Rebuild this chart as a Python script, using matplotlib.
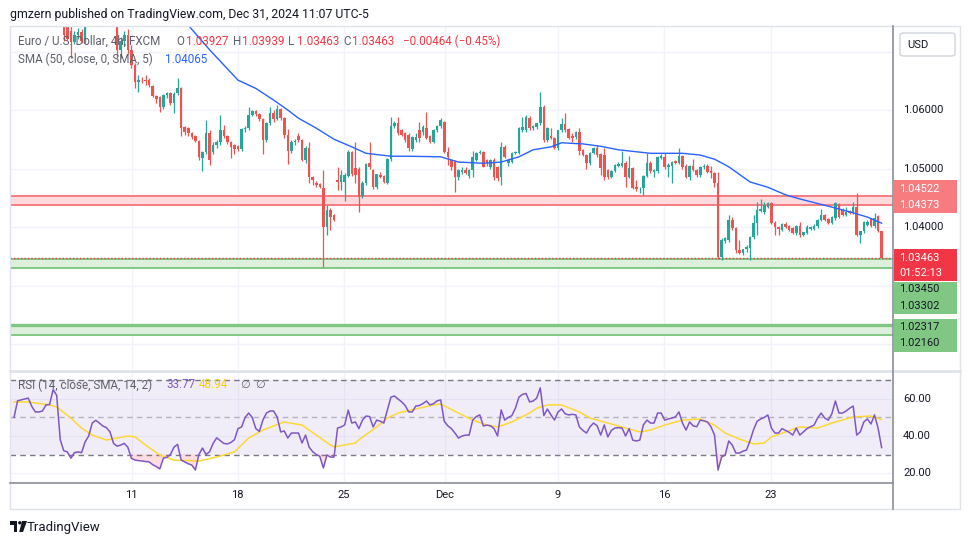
import numpy as np
import matplotlib.pyplot as plt
from matplotlib.patches import Rectangle, FancyBboxPatch, Polygon, Ellipse
from matplotlib.lines import Line2D

plt.rcParams['font.family'] = ['Roboto', 'DejaVu Sans']

# EURUSD 4h (FXCM); bar 0 = leftmost bar
opens = np.array([
    1.0790, 1.0800, 1.0812, 1.0795, 1.0820, 1.0835, 1.0828, 1.0840, 1.0832, 1.0850,
    1.0862, 1.0870, 1.0858, 1.0800, 1.0778, 1.0745, 1.0735, 1.0716, 1.0728, 1.0733,
    1.0718, 1.0758, 1.0772, 1.0785, 1.0790, 1.0781, 1.0776, 1.0786, 1.0772, 1.0762,
    1.0703, 1.0718, 1.0728, 1.0703, 1.0677, 1.0648, 1.0652, 1.0652, 1.0652, 1.0641,
    1.0624, 1.0622, 1.0605, 1.0625, 1.0629, 1.0612, 1.0629, 1.0638, 1.0571, 1.0569,
    1.0560, 1.0555, 1.0547, 1.0518, 1.0528, 1.0561, 1.0528, 1.0540, 1.0545, 1.0566,
    1.0556, 1.0545, 1.0540, 1.0538, 1.0534, 1.0567, 1.0569, 1.0592, 1.0598, 1.0593,
    1.0584, 1.0549, 1.0578, 1.0595, 1.0585, 1.0601, 1.0586, 1.0557, 1.0530, 1.0545,
    1.0556, 1.0548, 1.0515, 1.0535, 1.0485, 1.0475, 1.0473, 1.0467, 1.0400, 1.0429,
    1.0420, 1.0480, 1.0477, 1.0477, 1.0488, 1.0528, 1.0501, 1.0500, 1.0453, 1.0475,
    1.0509, 1.0497, 1.0468, 1.0489, 1.0487, 1.0476, 1.0516, 1.0573, 1.0578, 1.0566,
    1.0561, 1.0557, 1.0533, 1.0549, 1.0566, 1.0562, 1.0569, 1.0555, 1.0545, 1.0566,
    1.0572, 1.0580, 1.0528, 1.0514, 1.0511, 1.0485, 1.0494, 1.0497, 1.0487, 1.0497,
    1.0515, 1.0526, 1.0528, 1.0514, 1.0503, 1.0514, 1.0502, 1.0485, 1.0536, 1.0509,
    1.0511, 1.0526, 1.0527, 1.0566, 1.0566, 1.0586, 1.0569, 1.0571, 1.0578, 1.0605,
    1.0549, 1.0555, 1.0552, 1.0535, 1.0566, 1.0576, 1.0567, 1.0555, 1.0554, 1.0562,
    1.0532, 1.0523, 1.0509, 1.0526, 1.0535, 1.0524, 1.0523, 1.0497, 1.0485, 1.0496,
    1.0505, 1.0504, 1.0509, 1.0485, 1.0501, 1.0468, 1.0466, 1.0467, 1.0488, 1.0510,
    1.0494, 1.0495, 1.0518, 1.0520, 1.0502, 1.0505, 1.0512, 1.0510, 1.0521, 1.0504,
    1.0486, 1.0504, 1.0497, 1.0489, 1.0503, 1.0505, 1.0496, 1.0493, 1.0475, 1.0349,
    1.0376, 1.0378, 1.0412, 1.0398, 1.0361, 1.0356, 1.0362, 1.0364, 1.0383, 1.0407,
    1.0428, 1.0425, 1.0434, 1.0441, 1.0407, 1.0400, 1.0395, 1.0405, 1.0402, 1.0398,
    1.0390, 1.0402, 1.0386, 1.0390, 1.0397, 1.0397, 1.0402, 1.0412, 1.0421, 1.0414,
    1.0407, 1.0415, 1.0439, 1.0429, 1.0421, 1.0427, 1.0424, 1.0434, 1.0386, 1.0393,
    1.0403, 1.0414, 1.0402, 1.0418, 1.03927])
highs = np.array([
    1.0806, 1.0818, 1.0816, 1.0826, 1.0841, 1.0840, 1.0846, 1.0845, 1.0856, 1.0868,
    1.0876, 1.0874, 1.0862, 1.0806, 1.0782, 1.0760, 1.0745, 1.0735, 1.0740, 1.0738,
    1.0765, 1.0778, 1.0790, 1.0796, 1.0794, 1.0786, 1.0792, 1.0790, 1.0777, 1.0768,
    1.0725, 1.0735, 1.0738, 1.0711, 1.0680, 1.0660, 1.0656, 1.0660, 1.0654, 1.0643,
    1.0626, 1.0624, 1.0627, 1.0631, 1.0631, 1.0630, 1.0655, 1.0640, 1.0573, 1.0571,
    1.0562, 1.0557, 1.0549, 1.0530, 1.0583, 1.0565, 1.0545, 1.0548, 1.0591, 1.0575,
    1.0558, 1.0547, 1.0542, 1.0541, 1.0570, 1.0572, 1.0605, 1.0600, 1.0600, 1.0595,
    1.0586, 1.0580, 1.0605, 1.0600, 1.0609, 1.0603, 1.0588, 1.0568, 1.0548, 1.0550,
    1.0560, 1.0550, 1.0538, 1.0545, 1.0487, 1.0478, 1.0476, 1.0497, 1.0438, 1.0432,
    1.0422, 1.0502, 1.0497, 1.0492, 1.0531, 1.0530, 1.0545, 1.0503, 1.0478, 1.0510,
    1.0545, 1.0500, 1.0490, 1.0494, 1.0489, 1.0518, 1.0588, 1.0582, 1.0588, 1.0568,
    1.0563, 1.0560, 1.0555, 1.0561, 1.0580, 1.0575, 1.0597, 1.0557, 1.0568, 1.0575,
    1.0587, 1.0582, 1.0537, 1.0517, 1.0514, 1.0500, 1.0502, 1.0503, 1.0499, 1.0530,
    1.0528, 1.0532, 1.0530, 1.0516, 1.0516, 1.0518, 1.0505, 1.0545, 1.0540, 1.0516,
    1.0528, 1.0530, 1.0571, 1.0588, 1.0592, 1.0590, 1.0575, 1.0578, 1.0631, 1.0608,
    1.0571, 1.0569, 1.0554, 1.0566, 1.0586, 1.0595, 1.0569, 1.0561, 1.0564, 1.0569,
    1.0534, 1.0525, 1.0528, 1.0536, 1.0540, 1.0527, 1.0535, 1.0500, 1.0498, 1.0508,
    1.0511, 1.0530, 1.0512, 1.0521, 1.0503, 1.0480, 1.0469, 1.0489, 1.0526, 1.0512,
    1.0500, 1.0522, 1.0524, 1.0526, 1.0509, 1.0513, 1.0515, 1.0535, 1.0523, 1.0508,
    1.0506, 1.0516, 1.0499, 1.0504, 1.0508, 1.0508, 1.0505, 1.0494, 1.0494, 1.0381,
    1.0383, 1.0420, 1.0417, 1.0400, 1.0378, 1.0363, 1.0370, 1.0385, 1.0420, 1.0443,
    1.0448, 1.0443, 1.0442, 1.0443, 1.0410, 1.0402, 1.0407, 1.0409, 1.0404, 1.0400,
    1.0403, 1.0408, 1.0392, 1.0403, 1.0402, 1.0405, 1.0414, 1.0430, 1.0423, 1.0416,
    1.0418, 1.0443, 1.0441, 1.0432, 1.0434, 1.0429, 1.0443, 1.0458, 1.0394, 1.0410,
    1.0412, 1.0416, 1.0424, 1.0420, 1.03939])
lows = np.array([
    1.0784, 1.0795, 1.0789, 1.0790, 1.0815, 1.0822, 1.0824, 1.0826, 1.0828, 1.0845,
    1.0856, 1.0852, 1.0794, 1.0772, 1.0718, 1.0720, 1.0689, 1.0712, 1.0722, 1.0715,
    1.0715, 1.0752, 1.0766, 1.0779, 1.0775, 1.0770, 1.0771, 1.0766, 1.0755, 1.0689,
    1.0689, 1.0710, 1.0695, 1.0672, 1.0638, 1.0631, 1.0646, 1.0643, 1.0640, 1.0622,
    1.0612, 1.0597, 1.0602, 1.0621, 1.0609, 1.0595, 1.0626, 1.0556, 1.0558, 1.0555,
    1.0550, 1.0545, 1.0515, 1.0496, 1.0525, 1.0506, 1.0525, 1.0535, 1.0540, 1.0552,
    1.0542, 1.0518, 1.0525, 1.0530, 1.0530, 1.0562, 1.0566, 1.0590, 1.0590, 1.0582,
    1.0525, 1.0545, 1.0575, 1.0580, 1.0583, 1.0583, 1.0553, 1.0508, 1.0527, 1.0540,
    1.0545, 1.0512, 1.0510, 1.0475, 1.0472, 1.0468, 1.0466, 1.0332, 1.0386, 1.0395,
    1.0410, 1.0463, 1.0463, 1.0445, 1.0485, 1.0487, 1.0475, 1.0426, 1.0450, 1.0472,
    1.0500, 1.0465, 1.0465, 1.0483, 1.0475, 1.0473, 1.0513, 1.0570, 1.0558, 1.0555,
    1.0546, 1.0530, 1.0530, 1.0545, 1.0545, 1.0558, 1.0550, 1.0543, 1.0543, 1.0562,
    1.0570, 1.0527, 1.0506, 1.0498, 1.0460, 1.0480, 1.0490, 1.0490, 1.0483, 1.0485,
    1.0512, 1.0524, 1.0502, 1.0505, 1.0500, 1.0480, 1.0478, 1.0472, 1.0518, 1.0505,
    1.0509, 1.0524, 1.0525, 1.0563, 1.0563, 1.0566, 1.0566, 1.0568, 1.0575, 1.0545,
    1.0546, 1.0550, 1.0533, 1.0532, 1.0563, 1.0563, 1.0550, 1.0545, 1.0550, 1.0523,
    1.0522, 1.0500, 1.0506, 1.0524, 1.0520, 1.0489, 1.0480, 1.0482, 1.0483, 1.0494,
    1.0502, 1.0502, 1.0468, 1.0483, 1.0465, 1.0462, 1.0458, 1.0455, 1.0485, 1.0492,
    1.0486, 1.0493, 1.0516, 1.0500, 1.0485, 1.0475, 1.0507, 1.0508, 1.0500, 1.0483,
    1.0480, 1.0495, 1.0486, 1.0486, 1.0500, 1.0492, 1.0484, 1.0468, 1.0345, 1.0343,
    1.0372, 1.0375, 1.0395, 1.0356, 1.0354, 1.0353, 1.0358, 1.0344, 1.0380, 1.0386,
    1.0426, 1.0423, 1.0432, 1.0405, 1.0386, 1.0386, 1.0393, 1.0398, 1.0393, 1.0388,
    1.0387, 1.0383, 1.0384, 1.0388, 1.0395, 1.0395, 1.0399, 1.0410, 1.0410, 1.0405,
    1.0405, 1.0412, 1.0415, 1.0418, 1.0418, 1.0422, 1.0422, 1.0384, 1.0373, 1.0390,
    1.0401, 1.0400, 1.0399, 1.0392, 1.03463])
closes = np.array([
    1.0800, 1.0812, 1.0795, 1.0820, 1.0835, 1.0828, 1.0840, 1.0832, 1.0850, 1.0862,
    1.0870, 1.0858, 1.0800, 1.0778, 1.0728, 1.0722, 1.0716, 1.0728, 1.0733, 1.0718,
    1.0758, 1.0772, 1.0785, 1.0790, 1.0781, 1.0776, 1.0786, 1.0772, 1.0762, 1.0703,
    1.0718, 1.0728, 1.0703, 1.0677, 1.0648, 1.0652, 1.0651, 1.0649, 1.0642, 1.0624,
    1.0619, 1.0605, 1.0625, 1.0629, 1.0612, 1.0628, 1.0638, 1.0569, 1.0562, 1.0560,
    1.0554, 1.0547, 1.0520, 1.0528, 1.0561, 1.0515, 1.0540, 1.0545, 1.0566, 1.0556,
    1.0545, 1.0537, 1.0533, 1.0534, 1.0567, 1.0569, 1.0592, 1.0598, 1.0593, 1.0584,
    1.0549, 1.0578, 1.0595, 1.0585, 1.0601, 1.0586, 1.0557, 1.0530, 1.0545, 1.0547,
    1.0548, 1.0515, 1.0535, 1.0485, 1.0480, 1.0472, 1.0468, 1.0400, 1.0429, 1.0417,
    1.0412, 1.0477, 1.0489, 1.0489, 1.0528, 1.0490, 1.0489, 1.0451, 1.0475, 1.0508,
    1.0503, 1.0468, 1.0490, 1.0486, 1.0477, 1.0516, 1.0573, 1.0578, 1.0561, 1.0557,
    1.0549, 1.0535, 1.0554, 1.0554, 1.0552, 1.0571, 1.0552, 1.0545, 1.0566, 1.0572,
    1.0583, 1.0528, 1.0520, 1.0502, 1.0485, 1.0497, 1.0497, 1.0493, 1.0497, 1.0520,
    1.0526, 1.0528, 1.0503, 1.0509, 1.0514, 1.0486, 1.0483, 1.0536, 1.0520, 1.0514,
    1.0526, 1.0528, 1.0569, 1.0571, 1.0588, 1.0569, 1.0573, 1.0578, 1.0605, 1.0549,
    1.0569, 1.0552, 1.0535, 1.0566, 1.0576, 1.0566, 1.0552, 1.0552, 1.0562, 1.0530,
    1.0523, 1.0509, 1.0526, 1.0535, 1.0523, 1.0501, 1.0485, 1.0486, 1.0496, 1.0506,
    1.0507, 1.0509, 1.0485, 1.0501, 1.0467, 1.0465, 1.0467, 1.0488, 1.0510, 1.0495,
    1.0498, 1.0520, 1.0521, 1.0502, 1.0506, 1.0511, 1.0510, 1.0521, 1.0503, 1.0486,
    1.0504, 1.0497, 1.0489, 1.0503, 1.0505, 1.0494, 1.0493, 1.0475, 1.0349, 1.0378,
    1.0381, 1.0412, 1.0398, 1.0361, 1.0356, 1.0362, 1.0366, 1.0383, 1.0407, 1.0429,
    1.0431, 1.0438, 1.0441, 1.0407, 1.0400, 1.0397, 1.0405, 1.0400, 1.0395, 1.0390,
    1.0402, 1.0386, 1.0391, 1.0400, 1.0400, 1.0402, 1.0412, 1.0421, 1.0412, 1.0407,
    1.0417, 1.0441, 1.0417, 1.0421, 1.0426, 1.0424, 1.0434, 1.0386, 1.0393, 1.0408,
    1.0408, 1.0402, 1.0415, 1.0393, 1.03463])

# RSI(14) per bar
rsi = np.array([
    50.0, 59.0, 59.5, 60.0, 60.5, 56.0, 53.0, 53.0, 53.5, 56.8,
    57.0, 65.0, 62.0, 38.0, 32.0, 31.4, 28.0, 31.0, 31.4, 31.0,
    36.8, 40.0, 47.0, 48.5, 47.0, 45.4, 44.5, 42.2, 36.0, 34.5,
    35.1, 36.0, 34.0, 28.0, 27.0, 26.7, 26.5, 26.2, 26.0, 24.5,
    23.5, 22.2, 28.0, 28.5, 30.0, 34.0, 35.5, 27.0, 26.0, 25.0,
    24.3, 21.6, 30.0, 33.5, 30.0, 31.5, 36.0, 39.0, 37.5, 36.0,
    35.7, 36.5, 38.0, 44.0, 44.9, 50.0, 52.4, 50.0, 44.0, 42.5,
    48.6, 52.4, 53.5, 53.5, 50.3, 42.2, 42.7, 38.9, 41.6, 41.6,
    41.6, 36.2, 40.5, 34.0, 31.5, 30.0, 29.0, 22.7, 29.7, 28.6,
    28.6, 44.3, 44.9, 46.0, 54.0, 47.0, 47.6, 44.0, 48.6, 50.8,
    50.5, 44.9, 48.6, 48.0, 47.0, 54.0, 61.0, 61.6, 60.0, 58.5,
    56.5, 53.0, 53.0, 56.2, 56.5, 57.5, 58.9, 56.8, 57.5, 59.0,
    59.5, 48.0, 45.5, 44.0, 41.6, 38.9, 40.0, 40.5, 40.5, 48.6,
    50.5, 51.4, 45.4, 45.9, 45.5, 44.0, 40.0, 54.1, 48.6, 50.0,
    51.0, 55.0, 61.0, 62.5, 63.0, 58.4, 58.9, 60.5, 66.0, 51.0,
    54.6, 51.4, 48.6, 53.0, 54.6, 52.0, 51.4, 51.7, 51.4, 44.9,
    43.0, 41.6, 45.0, 47.0, 45.5, 40.5, 46.0, 39.5, 43.0, 44.3,
    44.5, 44.3, 40.0, 44.0, 37.8, 37.3, 37.8, 46.0, 48.6, 47.0,
    47.0, 52.4, 52.4, 48.6, 49.2, 49.7, 50.3, 53.0, 47.0, 43.2,
    47.6, 45.5, 45.0, 48.6, 48.2, 47.6, 45.0, 40.5, 21.6, 28.6,
    29.7, 37.3, 35.1, 30.8, 30.8, 31.8, 32.4, 37.5, 43.5, 48.0,
    49.2, 50.0, 51.4, 44.3, 41.6, 41.6, 44.0, 43.0, 42.0, 40.5,
    44.3, 40.5, 42.2, 44.0, 45.0, 45.9, 49.7, 52.4, 49.7, 48.6,
    52.0, 58.9, 52.4, 52.4, 53.5, 55.0, 56.2, 40.5, 42.2, 47.6,
    49.2, 46.5, 51.4, 44.3, 33.77])

# SMA(50) of close, read at a few bars
sma_bar = [48, 55, 63, 68, 73, 77, 80, 85, 90, 95, 99, 106, 111, 120, 125, 132, 137, 142, 146,
           151, 154, 160, 165, 170, 179, 188, 193, 197, 201, 207, 212, 217, 221, 230, 235, 240, 244]
sma_val = [1.0752, 1.0703, 1.0651, 1.0637, 1.0617, 1.0600, 1.0586, 1.0569, 1.0550, 1.0537,
           1.0526, 1.0521, 1.0521, 1.0520, 1.0511, 1.0509, 1.0511, 1.0520, 1.0532, 1.0537,
           1.0544, 1.0542, 1.0538, 1.0532, 1.0526, 1.0526, 1.0523, 1.0516, 1.0503, 1.0477,
           1.0468, 1.0455, 1.0448, 1.0434, 1.0426, 1.0417, 1.04065]

# SMA(14) of the RSI, read at a few bars
rsi_ma_bar = [0, 4, 10, 12, 16, 19, 22, 26, 32, 34, 37, 41, 45, 52, 57, 62, 66, 70, 76, 81, 85, 89,
              90, 96, 97, 102, 105, 108, 113, 118, 120, 125, 129, 133, 136, 140, 145, 147, 150,
              154, 159, 162, 167, 172, 176, 179, 183, 188, 193, 197, 200, 204, 208, 211, 213,
              217, 221, 226, 230, 236, 241, 244]
rsi_ma_val = [58.4, 58.4, 56.8, 55.7, 49.7, 44.3, 40.5, 37.8, 40.0, 39.5, 35.1, 29.7, 27.0, 26.5,
              28.6, 31.4, 38.9, 43.2, 47.6, 45.9, 40.5, 35.1, 34.1, 36.2, 38.0, 44.9, 49.7, 52.4,
              54.6, 56.8, 57.3, 52.4, 48.6, 45.9, 44.9, 47.6, 52.4, 55.0, 56.8, 56.8, 53.0, 49.7,
              47.0, 44.3, 42.2, 43.2, 45.9, 48.6, 49.2, 45.9, 41.6, 38.4, 35.7, 36.2, 39.5, 42.2,
              44.9, 44.3, 47.0, 50.3, 50.8, 48.94]

date_ticks = [33.1, 62.9, 92.8, 121.1, 153.0, 182.8, 212.9]
date_labels = ['11', '18', '25', 'Dec', '9', '16', '23']

price_grid = [1.02, 1.03, 1.04, 1.05, 1.06, 1.07]
price_labels = [1.06, 1.05, 1.04]
rsi_grid = [20, 40, 60]

resistance = (1.04373, 1.04522)
support1 = (1.03302, 1.03450)
support2 = (1.02160, 1.02317)
last_price = 1.03463
countdown = '01:52:13'

W, H = 970, 545
GREEN = '#26a69a'
RED = '#ef5350'
GRID = '#f0f3fa'
TXT = '#131722'
LEG = '#5d606b'
PY0, PY1 = 1.07419, 1.01573
RY0, RY1 = 74.59, 15.14
XL = (-1.125, 247.2)

fig = plt.figure(figsize=(W / 100, H / 100), dpi=100)
fig.patch.set_facecolor('white')


def ftext(x, y, s, **kw):
    kw.setdefault('fontsize', 8)
    kw.setdefault('va', 'center')
    kw.setdefault('color', TXT)
    return fig.text(x / W, 1 - y / H, s, **kw)


def fline(x0, y0, x1, y1, **kw):
    fig.add_artist(Line2D([x0 / W, x1 / W], [1 - y0 / H, 1 - y1 / H],
                          transform=fig.transFigure, **kw))


def frect(x0, y0, x1, y1, **kw):
    fig.add_artist(Rectangle((x0 / W, 1 - y1 / H), (x1 - x0) / W, (y1 - y0) / H,
                             transform=fig.transFigure, **kw))


def pane(x0, y0, x1, y1):
    return fig.add_axes([x0 / W, 1 - y1 / H, (x1 - x0) / W, (y1 - y0) / H])


def price_y(p):
    return 27 + (PY0 - p) / (PY0 - PY1) * (369 - 27)


def rsi_y(v):
    return 372 + (RY0 - v) / (RY0 - RY1) * (482 - 372)


ax = pane(10, 27, 893, 369)
axr = pane(10, 372, 893, 482)
bars = np.arange(len(closes))

for a in (ax, axr):
    a.set_xlim(*XL)
    a.set_xticks([])
    a.set_yticks([])
    for s in a.spines.values():
        s.set_visible(False)
    for t in date_ticks:
        a.axvline(t, color=GRID, lw=1, zorder=0)

# ---- price pane ----
ax.set_ylim(PY1, PY0)
for lvl in price_grid:
    ax.axhline(lvl, color=GRID, lw=1, zorder=0)

zones = [(resistance, '#fcdadd', '#f77c80', 1.4, 1.4),
         (support1, '#ddf0de', '#81c784', 1.4, 1.4),
         (support2, '#ddf0de', '#81c784', 1.4, 2.4)]
for (lo, hi), fill, edge, lw_lo, lw_hi in zones:
    ax.axhspan(lo, hi, facecolor=fill, edgecolor='none', zorder=1)
    ax.axhline(lo, color=edge, lw=lw_lo, zorder=2)
    ax.axhline(hi, color=edge, lw=lw_hi, zorder=2)

ax.axhline(last_price, color='#f23645', lw=1, ls=(0, (1, 1.5)), zorder=2)

col = np.where(closes >= opens, GREEN, RED)
ax.vlines(bars, lows, highs, colors=col, lw=0.9, zorder=3)
ax.bar(bars, np.maximum(np.abs(closes - opens), 0.00008), bottom=np.minimum(opens, closes),
       width=0.72, color=col, lw=0, zorder=4)
ax.plot(sma_bar, sma_val, color='#2962ff', lw=1.0, zorder=5)

# ---- RSI pane ----
axr.set_ylim(RY1, RY0)
for lvl in rsi_grid:
    axr.axhline(lvl, color=GRID, lw=1, zorder=0)
axr.axhspan(30, 70, color='#7e57c2', alpha=0.1, lw=0, zorder=1)
axr.axhline(70, color='#787b86', lw=1, ls=(0, (4, 3)), zorder=2)
axr.axhline(50, color='#787b86', lw=1, alpha=0.5, ls=(0, (4, 3)), zorder=2)
axr.axhline(30, color='#787b86', lw=1, ls=(0, (4, 3)), zorder=2)
axr.fill_between(bars, rsi, 30, where=rsi < 30, interpolate=True, color='#f23645',
                 alpha=0.16, lw=0, zorder=2)
axr.plot(rsi_ma_bar, rsi_ma_val, color='#fdd835', lw=1.1, zorder=3)
axr.plot(bars, rsi, color='#7e57c2', lw=1.1, zorder=4)

# ---- frame ----
frect(10, 26, 960, 509, facecolor='none', edgecolor='#e0e3eb', lw=1)
fline(10, 370.5, 960, 370.5, color='#e0e3eb', lw=2)
fline(893.5, 26, 893.5, 509, color='#8c8f99', lw=1.2)
fline(10, 482.5, 893.5, 482.5, color='#8c8f99', lw=1.2)

# ---- price axis ----
for p in price_labels:
    ftext(903, price_y(p), f'{p:.5f}')
for v in rsi_grid:
    ftext(903, rsi_y(v), f'{v:.2f}')


def tag(y0, y1, face, rows, color):
    frect(894, y0, 957, y1, facecolor=face, edgecolor='none')
    for y, s in rows:
        ftext(899, y, s, color=color)


tag(180, 213.5, '#f77c80', [(189, f'{resistance[1]:.5f}'), (205.5, f'{resistance[0]:.5f}')], 'white')
tag(249, 280.5, '#f23645', [(258.3, f'{last_price:.5f}'), (273.3, countdown)], 'white')
tag(282, 314, '#81c784', [(289.5, f'{support1[1]:.5f}'), (306, f'{support1[0]:.5f}')], TXT)
tag(319, 351.5, '#81c784', [(326.5, f'{support2[1]:.5f}'), (343.3, f'{support2[0]:.5f}')], TXT)

fig.add_artist(FancyBboxPatch((900 / W, 1 - 56 / H), 55 / W, 23 / H,
                              boxstyle='round,pad=0,rounding_size=0.004',
                              transform=fig.transFigure, fc='white', ec='#d1d4dc', lw=1))
ftext(907, 44.5, 'USD')

# ---- time axis ----
for t, lab in zip(date_ticks, date_labels):
    xp = 10 + (t - XL[0]) / (XL[1] - XL[0]) * 883
    ftext(xp, 494.5, lab, ha='center')

# ---- header and legends ----
ftext(10, 14.5, 'gmzern published on TradingView.com, Dec 31, 2024 11:07 UTC-5', fontsize=8.8)

chg = closes[-1] - opens[-1]
pct = chg / opens[-1] * 100
legend1 = [(18, 'Euro / U.S. Dollar, 4h, FXCM', LEG),
           (176.5, 'O', LEG), (186, f'{opens[-1]:.5f}', '#f23645'),
           (233, 'H', LEG), (242.5, f'{highs[-1]:.5f}', '#f23645'),
           (288, 'L', LEG), (296.5, f'{lows[-1]:.5f}', '#f23645'),
           (343, 'C', LEG), (352.5, f'{closes[-1]:.5f}', '#f23645'),
           (403, f'{chg:.5f} ({pct:.2f}%)'.replace('-', '\u2212'), '#f23645')]
for x, s, c in legend1:
    ftext(x, 41.5, s, color=c, fontsize=8.4)
ftext(18, 59, 'SMA (50, close, 0, SMA, 5)', color=LEG, fontsize=8.4)
ftext(165.5, 59, f'{sma_val[-1]:.5f}', color='#2962ff', fontsize=8.4)

ftext(18, 385, 'RSI (14, close, SMA, 14, 2)', color=LEG, fontsize=8.4)
ftext(166.5, 385, f'{rsi[-1]:.2f}', color='#7e57c2', fontsize=8.4)
ftext(199, 385, f'{rsi_ma_val[-1]:.2f}', color='#f5d000', fontsize=8.4)
ftext(240.5, 385, '\u2205', color=LEG, family=['DejaVu Sans'])
ftext(255.5, 385, '\u2205', color=LEG, family=['DejaVu Sans'])

# ---- footer logo ----
def fpoly(pts, **kw):
    fig.add_artist(Polygon([(x / W, 1 - y / H) for x, y in pts], closed=True,
                           transform=fig.transFigure, **kw))


fpoly([(10, 521), (17.5, 521), (17.5, 532), (13.8, 532), (13.8, 524.5), (10, 524.5)], fc=TXT, ec='none')
fig.add_artist(Ellipse((19.8 / W, 1 - 522.8 / H), 3.4 / W, 3.4 / H, transform=fig.transFigure,
                       fc=TXT, ec='none'))
fpoly([(22, 521), (27, 521), (23, 532), (19.2, 532)], fc=TXT, ec='none')
ftext(27, 527, 'TradingView', fontsize=9.5)

fig.savefig('out.png', dpi=100, facecolor='white')
